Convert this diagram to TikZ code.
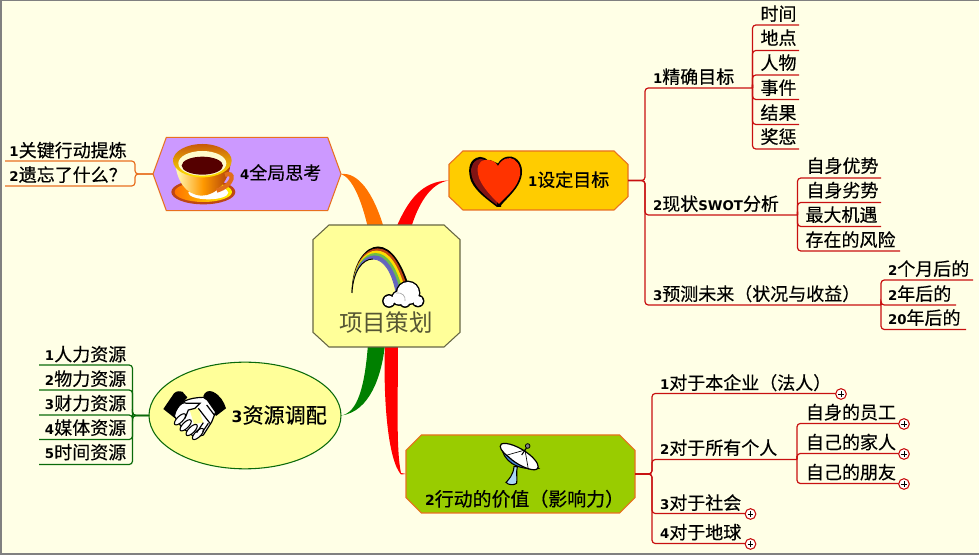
\documentclass[tikz,border=0pt]{standalone}
\usepackage{fontspec}
\setmainfont[FakeBold=0.35]{Noto Sans CJK SC}
\newfontfamily\plainf{Noto Sans CJK SC}
\newfontfamily\latinf[Scale=0.74]{DejaVu Sans}
\usetikzlibrary{shapes.geometric}
\definecolor{bgc}{HTML}{FFFFE6}
\definecolor{lred}{HTML}{C81010}
\definecolor{lorange}{HTML}{E87020}
\definecolor{lgreen}{HTML}{0A6A0A}
\definecolor{hubc}{HTML}{FFFF99}
\definecolor{hubline}{HTML}{666644}
\definecolor{gold}{HTML}{FFCC00}
\definecolor{leaf}{HTML}{99CC00}
\definecolor{lilac}{HTML}{CC99FF}
\definecolor{rb1}{RGB}{190,70,20}
\definecolor{rb2}{RGB}{255,220,0}
\definecolor{rb3}{RGB}{110,190,70}
\definecolor{rb4}{RGB}{100,100,190}
\definecolor{hrtd}{RGB}{130,20,20}
\definecolor{hrt}{RGB}{255,51,0}
\definecolor{cupd}{RGB}{190,70,20}
\definecolor{cupr}{RGB}{170,60,10}
\definecolor{cuph}{RGB}{225,110,25}
\definecolor{cupt}{RGB}{200,90,10}
\definecolor{coffee}{RGB}{85,0,0}
\definecolor{stand}{RGB}{170,215,245}
\definecolor{dishb}{RGB}{70,135,210}
\definecolor{ctxt}{HTML}{555533}
\newcommand\dg[1]{{\latinf\bfseries #1}}
\newcommand\topic[7]{%
  \coordinate (#1-a) at (#2,#4);
  \coordinate (#1-b) at (#3,#4);
  \node[lbl,anchor=base west] (#1) at (#5,{#6+6.5}) {#7};}
\newcommand\linkR[3]{\draw[#1] (#2) -- (#3-a |- #2) -- (#3-a) -- (#3-b);}
\newcommand\linkL[3]{\draw[#1] (#2) -- (#3-b |- #2) -- (#3-b) -- (#3-a);}
% chamfered outline of a hub node: name, chamfer x, chamfer y, style
\newcommand\chamfer[4]{\path[#4]
  ([xshift=#2]#1.north west) -- ([xshift=-#2]#1.north east) -- ([yshift=-#3]#1.north east)
  -- ([yshift=#3]#1.south east) -- ([xshift=-#2]#1.south east) -- ([xshift=#2]#1.south west)
  -- ([yshift=#3]#1.south west) -- ([yshift=-#3]#1.north west) -- cycle;}
\tikzset{
  lbl/.style={inner sep=0pt,outer sep=0pt,font=\fontsize{13.5}{15}\selectfont,text=black},
  hubtext/.style={inner sep=0pt,outer sep=0pt,text=black},
  hubbox/.style={rectangle,inner sep=0pt,outer sep=0pt},
  redl/.style={draw=lred,line width=.9pt,rounded corners=2.5pt},
  orl/.style={draw=lorange,line width=.9pt,rounded corners=2.5pt},
  grl/.style={draw=lgreen,line width=.9pt,rounded corners=2.5pt},
  plusbtn/.style={circle,draw=lred,fill=white,line width=.8pt,minimum size=8pt,inner sep=0pt,
    path picture={\draw[black,line width=.7pt] ([xshift=-2.2pt]path picture bounding box.center) -- ([xshift=2.2pt]path picture bounding box.center)
      ([yshift=-2.2pt]path picture bounding box.center) -- ([yshift=2.2pt]path picture bounding box.center);}},
}
\begin{document}
\begin{tikzpicture}[x=.75pt,y=-.75pt]
\useasboundingbox (0,0) rectangle (979,555);
\fill[bgc] (0,0) rectangle (979,555);
\draw[gray,line width=1.5pt] (979,.5) -- (.5,.5) -- (.5,554) -- (979,554);

% hubs (boxes; outlines follow the branches)
\node[hubbox,minimum width=110.25pt,minimum height=91.5pt] (c) at (386.5,286) {};
\node[hubbox,minimum width=134.25pt,minimum height=44.25pt] (n1) at (538.5,180.5) {};
\node[hubbox,minimum width=171.75pt,minimum height=58.5pt] (n2) at (520.5,474) {};
\node[hubbox,minimum width=141pt,minimum height=55pt] (n4) at (247,174) {};
\node[ellipse,draw=lgreen,fill=hubc,line width=.8pt,inner sep=0pt,outer sep=0pt,minimum width=144pt,minimum height=80pt] (n3) at (245,415.5) {};

% tapered branches
\fill[orange!90!red] (n4.east) .. controls (358,172) and (373,192) .. (384,228) -- (368,228) .. controls (361,198) and (352,178) .. (n4.east);
\fill[red] (396,228) .. controls (408,200) and (422,181) .. (n1.west) .. controls (430,183) and (418,205) .. (411,228) -- cycle;
\fill[green!50!black] (368,344) .. controls (365,385) and (358,413) .. (n3.east) .. controls (370,412) and (382,375) .. (385,344) -- cycle;
\fill[red] (385,344) .. controls (383,400) and (388,460) .. (401,474.5) -- (n2.west) -- (401,473) .. controls (396,450) and (398,400) .. (398,344) -- cycle;

% hub outlines
\chamfer{c}{12pt}{11pt}{draw=hubline,fill=hubc,line width=.8pt}
\chamfer{n1}{10.5pt}{10pt}{draw=lorange,fill=gold,line width=.8pt}
\chamfer{n2}{11.5pt}{11.5pt}{draw=lorange,fill=leaf,line width=.8pt}
\chamfer{n4}{10pt}{27.5pt}{draw=lorange,fill=lilac,line width=.8pt}

% hub texts
\node[hubtext,anchor=base west,text=ctxt,font=\plainf\fontsize{17.6}{20}\selectfont] (ctext) at (339,331.5) {项目策划};
\node[hubtext,anchor=base west,font=\fontsize{13.5}{15}\selectfont] (t1) at (528,186.5) {\dg{1}设定目标};
\node[hubtext,anchor=base west,font=\fontsize{14.2}{15}\selectfont] (t2) at (425,506) {\dg{2}行动的价值（影响力）};
\node[hubtext,anchor=base west,font=\fontsize{15.8}{15}\selectfont] (t3) at (231.7,423) {\dg{3}资源调配};
\node[hubtext,anchor=base west,font=\fontsize{13.5}{15}\selectfont] (t4) at (240,179.5) {\dg{4}全局思考};

% topics, branch 1
\topic{a1}{645}{752.5}{88}{653}{77}{\dg{1}精确目标}
\topic{a2}{645}{797.5}{215}{653}{204}{\dg{2}现状\dg{SWOT}分析}
\topic{a3}{645}{881}{305}{653}{294}{\dg{3}预测未来（状况与收益）}
\linkR{redl}{n1.east}{a1}
\linkR{redl}{n1.east}{a2}
\linkR{redl}{n1.east}{a3}
\topic{a11}{752.5}{799}{25}{760.5}{14}{时间}
\topic{a12}{752.5}{799}{50.5}{760.5}{38}{地点}
\topic{a13}{752.5}{799}{75}{760.5}{63}{人物}
\topic{a14}{752.5}{799}{99.5}{760.5}{88}{事件}
\topic{a15}{752.5}{799}{124.5}{760.5}{113}{结果}
\topic{a16}{752.5}{799}{149}{760.5}{137}{奖惩}
\foreach \k in {a11,a12,a13,a14,a15,a16} {\linkR{redl}{a1-b}{\k}}
\topic{a21}{797.5}{881}{178}{806.5}{166}{自身优势}
\topic{a22}{797.5}{881}{202.5}{806.5}{190.5}{自身劣势}
\topic{a23}{797.5}{881}{226.5}{805.5}{215}{最大机遇}
\topic{a24}{797.5}{900}{251}{805.5}{240}{存在的风险}
\foreach \k in {a21,a22,a23,a24} {\linkR{redl}{a2-b}{\k}}
\topic{a31}{881}{973}{280}{888}{269}{\dg{2}个月后的}
\topic{a32}{881}{956}{305}{888}{294}{\dg{2}年后的}
\topic{a33}{881}{966}{329.5}{888}{318}{\dg{20}年后的}
\foreach \k in {a31,a32,a33} {\linkR{redl}{a3-b}{\k}}

% branch 2
\topic{b1}{652}{837}{393.5}{660}{383}{\dg{1}对于本企业（法人）}
\topic{b2}{652}{797}{459.5}{660}{448}{\dg{2}对于所有个人}
\topic{b3}{652}{746}{513.5}{660}{503}{\dg{3}对于社会}
\topic{b4}{652}{746}{543.5}{660}{532.5}{\dg{4}对于地球}
\foreach \k in {b1,b2,b3,b4} {\linkR{redl}{n2.east}{\k}}
\topic{b21}{797}{899}{423.5}{806}{412.5}{自身的员工}
\topic{b22}{797}{899}{453.5}{806}{442.5}{自己的家人}
\topic{b23}{797}{899}{483.5}{806}{472.5}{自己的朋友}
\foreach \k in {b21,b22,b23} {\linkR{redl}{b2-b}{\k}}
\node[plusbtn] (p1) at (841,394) {};
\node[plusbtn] (p2) at (904,424) {};
\node[plusbtn] (p3) at (904,454) {};
\node[plusbtn] (p4) at (904,484) {};
\node[plusbtn] (p5) at (750.5,514) {};
\node[plusbtn] (p6) at (750.5,544) {};

% branch 3
\topic{d1}{39}{132.5}{365}{45}{354.5}{\dg{1}人力资源}
\topic{d2}{39}{132.5}{390}{45}{379}{\dg{2}物力资源}
\topic{d3}{39}{132.5}{415}{45}{403.5}{\dg{3}财力资源}
\topic{d4}{39}{132.5}{439.5}{45}{428}{\dg{4}媒体资源}
\topic{d5}{39}{132.5}{464.5}{45}{452.5}{\dg{5}时间资源}
\foreach \k in {d1,d2,d3,d4,d5} {\linkL{grl}{n3.west}{\k}}

% branch 4
\topic{e1}{5}{135}{161}{9.5}{150.5}{\dg{1}关键行动提炼}
\topic{e2}{5}{135}{186}{9.5}{175}{\dg{2}遗忘了什么？}
\foreach \k in {e1,e2} {\linkL{orl}{n4.west}{\k}}

% rainbow
\fill[black] (351.5,293) .. controls (352,262) and (366,246.5) .. (378,246.5) .. controls (392,246.5) and (402,265) .. (408,283) -- (397,292) -- cycle;
\foreach \cc/\t in {rb1/0.08,rb2/0.28,rb3/0.5,rb4/0.72}{
  \fill[\cc] (352.5,288) .. controls ({353.5},{262+10*\t}) and ({366-4*\t},{247.5+11*\t}) .. ({378-5*\t},{247.5+11*\t}) .. controls ({392-8*\t},{247.5+11*\t}) and ({401-9*\t},{265+7*\t}) .. ({407-10*\t},{283+9*\t}) -- (397,292) -- cycle;
}
\fill[hubc] (352,293) .. controls (353,272) and (362,259) .. (373,259) .. controls (384,259) and (392,272) .. (396,292) -- (396,296) -- (352,296) -- cycle;
\draw[black,line width=.7pt] (352,293) .. controls (353,272) and (362,259) .. (373,259);
\draw[rb4,line width=.7pt] (373,259) .. controls (384,259) and (392,272) .. (396,292);
% cloud
\foreach \px/\py/\rr in {408/293/11,389/301/5.5,418/301/5,399/298/6.5,405/302/4.5}{\fill[black] (\px,\py) circle[radius=\rr+1.4];}
\foreach \px/\py/\rr in {408/293/11,389/301/5.5,418/301/5,399/298/6.5,405/302/4.5}{\fill[white] (\px,\py) circle[radius=\rr];}
\draw[gray!70,line width=.5pt] (396,293) .. controls (402,292) and (406,296) .. (405,301);

% heart
\fill[black] (492,166) .. controls (488,158) and (481,155) .. (476,158) .. controls (468,162) and (468,172) .. (471,181) .. controls (476,192) and (488,200) .. (497,207) -- (501,207) -- (505,170) -- cycle;
\fill[black] (498,163.5) .. controls (502,156) and (511,155) .. (515,158) .. controls (522,162) and (524,172) .. (520,181) .. controls (516,191) and (506,199) .. (500,206.5) -- (496,200) -- (490,160) -- cycle;
\fill[hrtd] (492,168) .. controls (488,160) and (481,157) .. (477,160) .. controls (470,164) and (470,172) .. (473,180) .. controls (478,191) and (489,199) .. (497,205) -- (500,170) -- cycle;
\fill[hrt] (498,166) .. controls (502,158) and (510,156.5) .. (514,159.5) .. controls (520,163) and (522,172) .. (518.5,180) .. controls (515,190) and (505,197) .. (499,204) .. controls (492,197) and (483,188) .. (479,178) .. controls (476,168) and (478,161) .. (485,160) .. controls (491,159) and (496,162) .. (498,166) -- cycle;

% cup
\begin{scope}[shift={(0,130)},x=.25pt,y=-.25pt]
\fill[cupd] (610,186) ellipse[x radius=96,y radius=37];
\shade[left color=orange!90!red,right color=yellow!90!orange] (610,186) ellipse[x radius=86,y radius=30];
\fill[white] (625,188) ellipse[x radius=60,y radius=20];
\shade[left color=yellow!25!white,right color=cupr,middle color=orange!80!yellow] (525,95) .. controls (530,150) and (555,195) .. (605,197) .. controls (650,197) and (690,150) .. (692,95) -- cycle;
\draw[cuph,line width=3.2pt] (675,135) .. controls (705,120) and (705,165) .. (650,182);
\shade[top color=cupt,bottom color=yellow!80!orange] (607,92) ellipse[x radius=88,y radius=50];
\fill[yellow!20!white] (607,100) ellipse[x radius=72,y radius=37];
\fill[coffee] (607,107) ellipse[x radius=62,y radius=27];
\end{scope}

% handshake
\begin{scope}[shift={(20,340)},x=.25pt,y=-.25pt]
\fill[black] (430,207) -- (462,160) .. controls (470,152) and (480,153) .. (487,155) -- (502,172) -- (478,200) -- (464,234) -- cycle;
\fill[black] (550,168) .. controls (555,155) and (565,150) .. (578,155) .. controls (600,165) and (612,185) .. (618,205) -- (588,228) -- (560,185) -- cycle;
\fill[white,draw=black,line width=.9pt] (468,212) .. controls (478,185) and (505,173) .. (550,172) -- (562,180) -- (587,216) -- (575,246) -- (550,285) -- (525,292) -- (485,262) -- (463,228) -- cycle;
\fill[hubc] (508,207) -- (535,205) -- (550,248) -- (522,252) -- cycle;
\draw[black,line width=.9pt] (468,212) .. controls (480,190) and (490,185) .. (500,190) -- (540,190) -- (525,205) -- (505,210) -- (495,235);
\draw[black,line width=.9pt] (535,205) -- (570,250) (560,195) -- (583,225);
\foreach \fx/\fy in {480/238,497/256,515/270,534/282}{
  \draw[black,fill=white,line width=.8pt,rotate around={45:(\fx,\fy)}] (\fx,\fy) ellipse[x radius=22,y radius=9];}
\draw[black,line width=.9pt] (550,248) -- (530,278) (565,250) -- (548,275);
\end{scope}

% satellite dish
\begin{scope}[shift={(370,340)},x=.25pt,y=-.25pt]
\fill[stand,draw=black,line width=.8pt] (432,380) .. controls (430,405) and (415,420) .. (408,427) .. controls (415,436) and (432,436) .. (440,430) .. controls (442,415) and (438,395) .. (442,380) -- cycle;
\fill[dishb,draw=black,line width=.8pt] (394,320) .. controls (400,360) and (435,392) .. (505,385) -- cycle;
\fill[white,draw=black,line width=.9pt] (394,312) .. controls (410,305) and (450,320) .. (480,345) .. controls (500,362) and (512,382) .. (500,388) .. controls (485,395) and (440,375) .. (415,350) .. controls (395,335) and (385,320) .. (394,312) -- cycle;
\draw[black,line width=.5pt] (412,345) -- (465,330) -- (475,388);
\draw[black,line width=.8pt] (455,345) -- (472,320);
\fill[gray,draw=black,line width=.6pt] (473,318) circle[radius=7];
\end{scope}
\end{tikzpicture}
\end{document}
